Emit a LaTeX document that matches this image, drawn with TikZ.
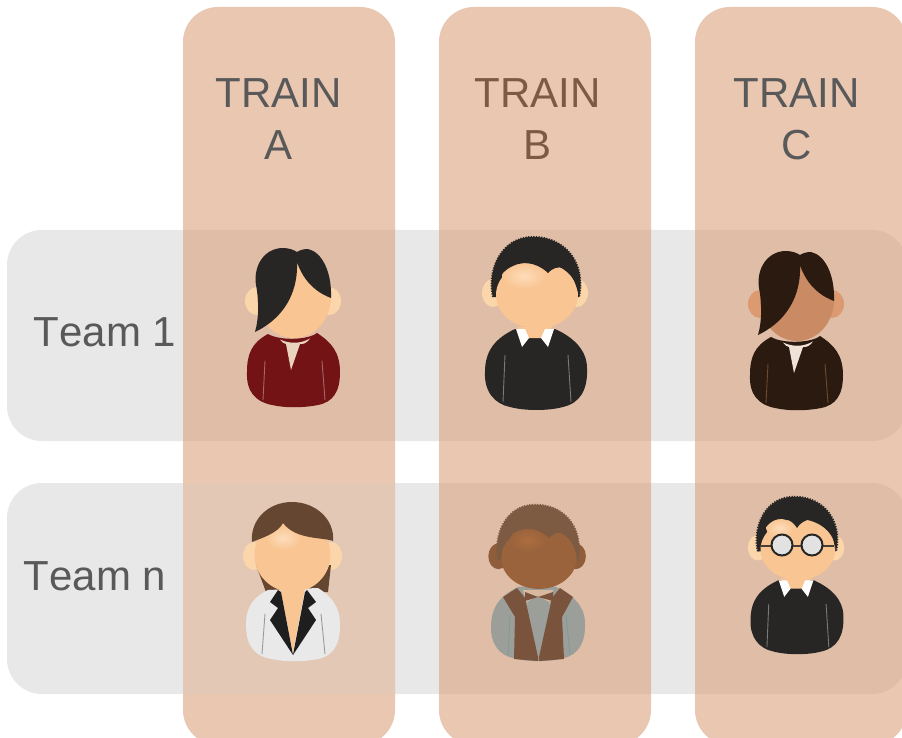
\documentclass[tikz,border=0pt]{standalone}
\usepackage{fontspec}
\setmainfont[Kerning=Off]{Liberation Sans}
\definecolor{colfill}{HTML}{D89A72}
\definecolor{rowfill}{HTML}{E8E8E8}
\definecolor{inkgray}{HTML}{595959}
\definecolor{inkbrown}{HTML}{7F5A43}
\definecolor{skin}{HTML}{F9C592}
\definecolor{skinear}{HTML}{FCD6AB}
\definecolor{skinglow}{HTML}{FDDDBB}
\definecolor{hairblack}{HTML}{272625}
\definecolor{wine}{HTML}{731316}
\definecolor{winevee}{HTML}{EAD3BE}
\definecolor{wineseam}{HTML}{A06A6C}
\definecolor{darkbrown}{HTML}{2A1A10}
\definecolor{tanface}{HTML}{C98A64}
\definecolor{tanear}{HTML}{DC9A70}
\definecolor{tanseam}{HTML}{6E4A30}
\definecolor{tanvee}{HTML}{EFE2D8}
\definecolor{seamgray}{HTML}{7A7A7A}
\definecolor{coat}{HTML}{E9E9E9}
\definecolor{coatseam}{HTML}{9A9A9A}
\definecolor{lapel}{HTML}{1E1E1E}
\definecolor{brownhair}{HTML}{654731}
\definecolor{afrohair}{HTML}{7D5A42}
\definecolor{afroface}{HTML}{9A633C}
\definecolor{afroear}{HTML}{8F5D3B}
\definecolor{afroglow}{HTML}{AC6D3F}
\definecolor{shirt}{HTML}{9C9F99}
\definecolor{shirtseam}{HTML}{7F9C98}
\definecolor{vest}{HTML}{7A533C}
\definecolor{neckafro}{HTML}{D8B89E}
\definecolor{lens}{HTML}{E2E2E2}
\definecolor{glassbar}{HTML}{4A3D32}
\tikzset{
  band/.style={rounded corners=35pt},
  title/.style={font=\fontsize{42}{42}\selectfont,anchor=base,inner sep=0pt},
  seam/.style={line width=0.9pt,line cap=round},
}
% side-parted woman: shift, hair, face, ear, top, V, seam
\newcommand{\partedwoman}[7]{%
\begin{scope}[shift={(#1)}]
  \fill[#4] (257,301) ellipse (12 and 14);
  \fill[#4] (329,301) ellipse (12 and 14);
  \fill[#5] (268,334) .. controls (251,343) and (247,355) .. (247,372)
     .. controls (246,392) and (256,402) .. (272,405)
     .. controls (285,408) and (303,408) .. (318,405)
     .. controls (333,402) and (340,392) .. (340,372)
     .. controls (340,352) and (331,342) .. (317,333)
     .. controls (308,340) and (280,341) .. (268,334) -- cycle;
  \fill[#6] (280,339.5) .. controls (290,344) and (300,344) .. (310,338.5)
     .. controls (305,345) and (302,344) .. (300,344) -- (291,370) -- (286,344)
     .. controls (284,344) and (282,342) .. (280,339.5) -- cycle;
  \fill[#3] (294,297) ellipse (37 and 41);
  \draw[#7,seam] (265,361) -- (263,400);
  \draw[#7,seam] (322,361) -- (325,400);
  \fill[#2] (255,332) .. controls (259,318) and (259,300) .. (256,285)
     .. controls (253,265) and (265,248) .. (283,248)
     .. controls (289,248) and (294,250) .. (297,252)
     .. controls (300,250) and (304,249) .. (308,249)
     .. controls (322,252) and (332,272) .. (331,298)
     .. controls (315,292) and (303,280) .. (297,262)
     .. controls (298,285) and (290,315) .. (255,332) -- cycle;
\end{scope}}
\newcommand{\curlyouter}{(493,297) .. controls (487,272) and (500,237) .. (533,237)
     .. controls (566,237) and (586,264) .. (579,297)}
% curly head: hair, face, ear
\newcommand{\curlyback}[3]{%
  \fill[#3] (493,293) ellipse (11 and 14);
  \fill[#3] (577,293) ellipse (11 and 14);
  \fill[#1] \curlyouter -- cycle;
  \draw[#1,line width=2pt,dash pattern=on 1.3pt off 1.3pt] \curlyouter;
  \fill[#2] (537,295) ellipse (41 and 33.5);
}
\newcommand{\curlyfringe}[1]{%
  \fill[#1] (493,297) .. controls (495,280) and (503,270) .. (513,266)
     .. controls (527,259) and (541,266) .. (548,273)
     .. controls (556,264) and (572,262) .. (579,297)
     .. controls (586,264) and (566,237) .. (533,237)
     .. controls (500,237) and (487,272) .. (493,297) -- cycle;
}
\newcommand{\manbody}[1]{%
  \fill[#1] (515,329) .. controls (496,338) and (485,350) .. (485,372)
     .. controls (484,392) and (495,404) .. (510,407)
     .. controls (525,411) and (548,411) .. (563,407)
     .. controls (580,403) and (588,390) .. (587,368)
     .. controls (587,350) and (573,337) .. (555,329) -- cycle;
}
\newcommand{\mancollar}{%
  \fill[skin] (517,327) -- (529,338) -- (541,338) -- (553,327) -- cycle;
  \fill[white] (516,329) -- (522,347) -- (529,338) -- (525,329) -- cycle;
  \fill[white] (554,329) -- (548,347) -- (541,338) -- (545,329) -- cycle;
  \draw[seamgray,seam] (505,355) -- (503,402);
  \draw[seamgray,seam] (568,355) -- (571,402);
}
\begin{document}
\begin{tikzpicture}[x=1pt,y=-1pt]
\clip (0,0) rectangle (902,738);
\fill[white] (0,0) rectangle (902,738);
% rows
\fill[rowfill,band] (7,230) rectangle (907,441);
\fill[rowfill,band] (7,483) rectangle (907,694);
% columns
\fill[colfill,opacity=.55,band] (183,7) rectangle (395,745);
\fill[colfill,opacity=.55,band] (439,7) rectangle (651,745);
\fill[colfill,opacity=.55,band] (695,7) rectangle (907,745);
% lighter cell
\fill[white,opacity=.18] (183,483) rectangle (395,694);
% labels
\node[title,text=inkgray] (trainA1) at (278.5,108) {TRAIN};
\node[title,text=inkgray] (trainA2) at (278.5,160) {A};
\node[title,text=inkbrown] (trainB1) at (537.5,108) {TRAIN};
\node[title,text=inkbrown] (trainB2) at (537.5,160) {B};
\node[title,text=inkgray] (trainC1) at (796.5,108) {TRAIN};
\node[title,text=inkgray] (trainC2) at (796.5,160) {C};
\node[title,text=inkgray] (team1) at (105,346) {Team 1};
\node[title,text=inkgray] (teamn) at (95,590) {Team n};
% A1, C1
\partedwoman{0,0}{hairblack}{skin}{skinear}{wine}{winevee}{wineseam}
\partedwoman{503,3}{darkbrown}{tanface}{tanear}{darkbrown}{tanvee}{tanseam}
% B1
\manbody{hairblack}
\mancollar
\curlyback{hairblack}{skin}{skinear}
\shade[inner color=skinglow,outer color=skin] (524,276) ellipse (22 and 13);
\curlyfringe{hairblack}
% C2
\begin{scope}[shift={(309.2,281.1)},scale=.91]
  \manbody{hairblack}
  \mancollar
  \curlyback{hairblack}{skin}{skinear}
\end{scope}
\shade[inner color=skinglow,outer color=skin] (780,528) ellipse (14 and 9);
\fill[hairblack] (758,548) .. controls (761,532) and (766,524) .. (775,520)
   .. controls (785,517) and (792,520) .. (797,528)
   .. controls (802,520) and (812,517) .. (822,520)
   .. controls (829,524) and (833,535) .. (835,548)
   .. controls (841,522) and (822,497) .. (797,497)
   .. controls (772,497) and (752,522) .. (758,548) -- cycle;
\draw[glassbar,line width=1.6pt] (761,546) -- (834,546);
\draw[hairblack,line width=2pt,fill=lens] (782,545) circle (10.5);
\draw[hairblack,line width=2pt,fill=lens] (812,545) circle (10.5);
% A2
\fill[skinear] (254,556) ellipse (11 and 14);
\fill[skinear] (331,556) ellipse (11 and 14);
\fill[brownhair] (256,565) -- (266,592) -- (328,592) -- (331,565) -- cycle;
\fill[coat] (268,590) .. controls (252,598) and (246,608) .. (246,625)
   .. controls (246,647) and (256,657) .. (272,659)
   .. controls (285,662) and (303,662) .. (318,659)
   .. controls (333,656) and (340,645) .. (340,625)
   .. controls (340,606) and (331,596) .. (318,588) -- cycle;
\fill[skin] (280,588) -- (293,653) -- (305,588) -- cycle;
\fill[lapel] (278,590) -- (270,602) -- (278,608) -- (270,620) -- (293,655)
   -- (281,592) -- cycle;
\fill[lapel] (307,590) -- (316,602) -- (308,608) -- (316,620) -- (293,655)
   -- (305,592) -- cycle;
\draw[coatseam,seam] (265,614) -- (262,654);
\draw[coatseam,seam] (321,614) -- (325,654);
\fill[skin] (292.5,555) ellipse (38 and 37);
\shade[inner color=skinglow,outer color=skin] (283,538) ellipse (18 and 12);
\fill[brownhair] (252,542) .. controls (250,520) and (268,502) .. (292,502)
   .. controls (316,502) and (335,520) .. (333,541)
   .. controls (322,537) and (296,540) .. (283,523)
   .. controls (278,533) and (262,538) .. (252,542) -- cycle;
% B2
\begin{scope}[shift={(44.9,284)},scale=.92]
  \manbody{shirt}
\end{scope}
\fill[neckafro] (523,590) -- (553,590) -- (549,604) -- (527,604) -- cycle;
\fill[shirt] (527,602) -- (538,596) -- (549,602) -- (540,640) -- (536,640) -- cycle;
\fill[vest] (503,597) -- (517,588) -- (525,598) -- (538,657) -- (538,661) -- (514,659) -- (515,617) -- cycle;
\fill[vest] (573,597) -- (560,588) -- (552,598) -- (539,657) -- (539,661) -- (564,659) -- (562,617) -- cycle;
\fill[vest] (525,592) -- (538,597) -- (553,592) -- (553,601) -- (538,597) -- (525,601) -- cycle;
\draw[shirtseam,seam] (510,615) -- (508,655);
\draw[shirtseam,seam] (566,615) -- (570,655);
\begin{scope}[shift={(44.9,286.7)},scale=.92]
  \curlyback{afrohair}{afroface}{afroear}
  \shade[inner color=afroglow,outer color=afroface] (525,276) ellipse (20 and 13);
  \curlyfringe{afrohair}
\end{scope}
\end{tikzpicture}
\end{document}
